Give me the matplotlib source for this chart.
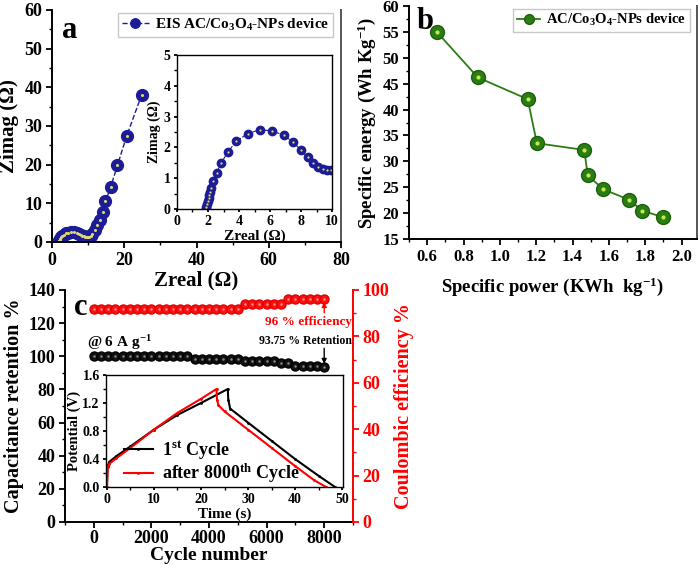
import matplotlib
matplotlib.use("Agg")
import matplotlib.pyplot as plt
from matplotlib.ticker import MultipleLocator

plt.rcParams['font.family'] = ['Liberation Serif', 'DejaVu Serif']
plt.rcParams['font.weight'] = 'bold'
plt.rcParams['axes.labelweight'] = 'bold'
plt.rcParams['mathtext.fontset'] = 'custom'
plt.rcParams['mathtext.rm'] = 'Liberation Serif:bold'
plt.rcParams['mathtext.bf'] = 'Liberation Serif:bold'
plt.rcParams['mathtext.default'] = 'bf'
plt.rcParams['axes.linewidth'] = 1.4

# ---------------- data ----------------
# Panel a: Nyquist plot
eis_zreal = [1.85, 1.9, 1.95, 2.0, 2.05, 2.09, 2.15, 2.2, 2.34, 2.56, 2.86, 3.29, 3.83, 4.56,
             5.33, 6.15, 6.88, 7.5, 8.02, 8.43, 8.8, 9.12, 9.4, 9.68, 9.94,
             10.3, 10.7, 11.2, 11.8, 12.4, 13.3, 14.2, 14.8, 16.2, 18.1, 20.7, 24.8]
eis_zimag = [0.0, 0.08, 0.16, 0.25, 0.35, 0.45, 0.55, 0.67, 0.9, 1.18, 1.5, 1.86, 2.2, 2.45,
             2.57, 2.54, 2.39, 2.17, 1.9, 1.68, 1.5, 1.37, 1.3, 1.27, 1.26,
             1.3, 1.5, 2.0, 3.0, 4.4, 5.8, 7.8, 10.5, 14.1, 19.8, 27.5, 38.0]

# Panel b: Ragone plot
power = [0.653, 0.879, 1.153, 1.204, 1.464, 1.484, 1.569, 1.71, 1.783, 1.898]
energy = [55.0, 46.2, 42.0, 33.5, 32.2, 27.3, 24.6, 22.6, 20.5, 19.2]

# Panel c: cycling stability
cycles = [0, 250, 500, 750, 1000, 1250, 1500, 1750, 2000, 2250, 2500, 2750, 3000, 3250,
          3500, 3750, 4000, 4250, 4500, 4750, 5000, 5250, 5500, 5750, 6000, 6250,
          6500, 6750, 7000, 7250, 7500, 7750, 8000]
retention = [100, 100, 100, 100, 100, 100, 100, 100, 100, 100, 100, 100, 100, 100,
             98.6, 98.6, 98.6, 98.6, 98.6, 98.6, 98.6, 97.2, 97.2, 97.2, 97.2, 97.2,
             95.8, 95.8, 94.0, 94.0, 94.0, 94.0, 93.75]
efficiency = [92, 92, 92, 92, 92, 92, 92, 92, 92, 92, 92, 92, 92, 92,
              92, 92, 92, 92, 92, 92, 92, 94, 94, 94, 94, 94,
              94, 96, 96, 96, 96, 96, 96]

# Panel c inset: GCD curves
t_first = [0, 0.15, 0.5, 2, 5, 10, 15, 20, 25.7, 25.8, 26.2, 30, 35, 40, 45, 48.5]
v_first = [0, 0.30, 0.36, 0.44, 0.58, 0.82, 1.03, 1.20, 1.40, 1.25, 1.12, 0.92, 0.66, 0.40, 0.16, 0.0]
t_after = [0, 0.15, 0.5, 2, 5, 10, 15, 20, 23.3, 23.4, 23.7, 25, 30, 35, 40, 44, 46.6]
v_after = [0, 0.28, 0.33, 0.41, 0.56, 0.82, 1.06, 1.26, 1.40, 1.25, 1.17, 1.08, 0.82, 0.56, 0.30, 0.10, 0.0]

W, H = 700, 565
fig = plt.figure(figsize=(7, 5.65), dpi=100)


def rect(x0, y0, x1, y1):
    return [x0 / W, (H - y1) / H, (x1 - x0) / W, (y1 - y0) / H]


def style_ticks(ax, size=11):
    ax.tick_params(which='major', direction='out', length=4, width=1.3, labelsize=size, pad=3)
    ax.tick_params(which='minor', direction='out', length=2.5, width=1.0)


navy = '#1c1c96'
green = '#2a7d12'

# ---------------- panel a ----------------
axa = fig.add_axes(rect(52, 10, 341, 242))
axa.plot(eis_zreal, eis_zimag, '--', color=navy, lw=1.0, marker='o', ms=8.5,
         mfc=navy, mec=navy, label='EIS AC/Co$_3$O$_4$-NPs device')
axa.plot(eis_zreal, eis_zimag, 'o', color='#e0d870', ms=2.2, mew=0)
axa.set_xlim(0, 80)
axa.set_ylim(0, 60)
axa.xaxis.set_major_locator(MultipleLocator(20))
axa.xaxis.set_minor_locator(MultipleLocator(10))
axa.yaxis.set_major_locator(MultipleLocator(10))
axa.yaxis.set_minor_locator(MultipleLocator(5))
style_ticks(axa, 13)
axa.set_xlabel('Zreal (Ω)', fontsize=15, labelpad=1)
axa.set_ylabel('Zimag (Ω)', fontsize=15, labelpad=4)
axa.spines['top'].set_visible(False)
axa.spines['right'].set_color('#555555')
axa.text(0.035, 0.975, 'a', transform=axa.transAxes, fontsize=22, fontweight='bold',
         va='top', ha='left')
axa.legend(loc='upper right', fontsize=11, frameon=True, fancybox=False,
           edgecolor='#bbbbbb', handlelength=1.8, borderpad=0.25,
           bbox_to_anchor=(1.0, 1.02), markerscale=0.8, handletextpad=0.4)

# inset a
axai = fig.add_axes(rect(177, 55, 332, 209))
axai.plot(eis_zreal, eis_zimag, '--', color=navy, lw=0.8, marker='o', ms=6,
          mfc=navy, mec=navy)
axai.plot(eis_zreal, eis_zimag, 'o', color='#e0d870', ms=1.6, mew=0)
axai.set_xlim(0, 10)
axai.set_ylim(0, 5)
axai.xaxis.set_major_locator(MultipleLocator(2))
axai.xaxis.set_minor_locator(MultipleLocator(1))
axai.yaxis.set_major_locator(MultipleLocator(1))
axai.yaxis.set_minor_locator(MultipleLocator(0.5))
style_ticks(axai, 10)
axai.tick_params(which='both', length=2.5, pad=2)
for s in axai.spines.values():
    s.set_linewidth(1.0)
axai.set_xlabel('Zreal (Ω)', fontsize=11, labelpad=1)
axai.set_ylabel('Zimag (Ω)', fontsize=10, labelpad=2)

# ---------------- panel b ----------------
axb = fig.add_axes(rect(409, 6, 697, 239))
axb.plot(power, energy, '-', color=green, lw=1.3, marker='o', ms=10,
         mfc=green, mec='#1e5e0c', label='AC/Co$_3$O$_4$-NPs device')
axb.plot(power, energy, 'o', color='#c6e850', ms=3, mew=0)
axb.set_xlim(0.5, 2.085)
axb.set_ylim(15, 60)
axb.xaxis.set_major_locator(MultipleLocator(0.2))
axb.xaxis.set_minor_locator(MultipleLocator(0.1))
axb.yaxis.set_major_locator(MultipleLocator(5))
axb.yaxis.set_minor_locator(MultipleLocator(2.5))
style_ticks(axb, 12)
axb.set_xlabel('Specific power (KWh  kg$^{-1}$)', fontsize=13.5, labelpad=8)
axb.set_ylabel('Specific energy (Wh Kg$^{-1}$)', fontsize=13.5, labelpad=3)
axb.spines['top'].set_visible(False)
axb.spines['right'].set_color('#555555')
axb.text(0.025, 0.995, 'b', transform=axb.transAxes, fontsize=22, fontweight='bold',
         va='top', ha='left')
axb.legend(loc='upper right', fontsize=10.5, frameon=True, fancybox=False,
           edgecolor='#bbbbbb', handlelength=1.6, borderpad=0.25, markerscale=0.7,
           bbox_to_anchor=(1.0, 1.02), handletextpad=0.4)

# ---------------- panel c ----------------
axc = fig.add_axes(rect(65, 290, 353, 522))
axc.plot(cycles, retention, 'o', color='black', ms=6.5, mfc='#111111', mec='black')
axc.plot(cycles, retention, 'o', color='#888888', ms=1.8, mew=0)
axc.set_xlim(-1000, 9000)
axc.set_ylim(0, 140)
axc.xaxis.set_major_locator(MultipleLocator(2000))
axc.xaxis.set_minor_locator(MultipleLocator(1000))
axc.yaxis.set_major_locator(MultipleLocator(20))
axc.yaxis.set_minor_locator(MultipleLocator(10))
style_ticks(axc, 13)
axc.tick_params(axis='x', pad=2)
axc.set_xlabel('Cycle number', fontsize=14, labelpad=0)
axc.set_ylabel('Capacitance retention %', fontsize=14.5, labelpad=3)
axc.spines['top'].set_visible(False)
axc.spines['right'].set_visible(False)
axc.text(0.03, 0.985, 'c', transform=axc.transAxes, fontsize=22, fontweight='bold',
         va='top', ha='left')
axc.text(-250, 108, '@ 6 A g$^{-1}$', fontsize=11, fontweight='bold', ha='left', va='center')
axc.annotate('', xy=(cycles[-1], retention[-1]), xytext=(cycles[-1], 106.5),
             arrowprops=dict(arrowstyle='-|>', color='black', lw=1.0, mutation_scale=7))
axc.text(7350, 109.5, '93.75 % Retention', fontsize=8.5, fontweight='bold', ha='center',
         va='center')

axr = axc.twinx()
axr.plot(cycles, efficiency, 'o', color='red', ms=6.5, mfc='#ff1010', mec='#e00000')
axr.plot(cycles, efficiency, 'o', color='#ff9090', ms=1.8, mew=0)
axr.set_ylim(0, 100)
axr.set_xlim(-1000, 9000)
axr.yaxis.set_major_locator(MultipleLocator(20))
axr.yaxis.set_minor_locator(MultipleLocator(10))
style_ticks(axr, 13)
axr.tick_params(which='both', colors='red')
axr.spines['right'].set_color('red')
axr.spines['top'].set_visible(False)
axr.spines['left'].set_visible(False)
axr.spines['bottom'].set_visible(False)
axr.set_ylabel('Coulombic efficiency %', color='red', fontsize=14.5, labelpad=3)
axr.annotate('', xy=(cycles[-1], efficiency[-1]), xytext=(cycles[-1], 89),
             arrowprops=dict(arrowstyle='-|>', color='red', lw=1.0, mutation_scale=7))
axr.text(7450, 86.3, '96 % efficiency', fontsize=9.5, fontweight='bold', color='red',
         ha='center', va='center')

# inset c
axci = fig.add_axes(rect(106, 375, 343, 487))
axci.plot(t_first, v_first, '-', color='black', lw=1.5, marker='.', ms=2,
          label='1$^{st}$ Cycle')
axci.plot(t_after, v_after, '-', color='red', lw=1.5, marker='.', ms=2,
          label='after 8000$^{th}$ Cycle')
axci.set_xlim(-0.2, 50.2)
axci.set_ylim(0, 1.6)
axci.xaxis.set_major_locator(MultipleLocator(10))
axci.xaxis.set_minor_locator(MultipleLocator(5))
axci.yaxis.set_major_locator(MultipleLocator(0.4))
axci.yaxis.set_minor_locator(MultipleLocator(0.2))
style_ticks(axci, 10)
axci.tick_params(which='both', length=2.5, pad=2)
for s in axci.spines.values():
    s.set_linewidth(1.0)
axci.set_xlabel('Time (s)', fontsize=11, labelpad=1)
axci.set_ylabel('Potential (V)', fontsize=10.5, labelpad=1)
axci.legend(loc='lower left', fontsize=13, frameon=False, handlelength=1.6,
            borderpad=0.1, labelspacing=0.05, bbox_to_anchor=(0.03, -0.08),
            handletextpad=0.5)

fig.savefig('out.png', dpi=100)
